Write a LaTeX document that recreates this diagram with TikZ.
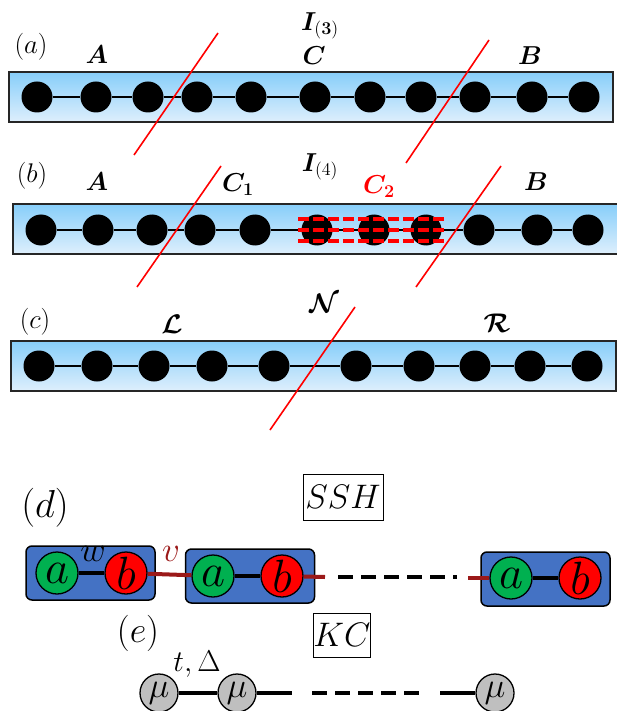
\documentclass[tikz,border=0pt]{standalone}
\usepackage{amsmath,bm,graphicx}
\definecolor{cellblue}{RGB}{68,114,196}
\definecolor{agreen}{RGB}{0,176,80}
\definecolor{dred}{RGB}{155,25,25}
\definecolor{skytop}{RGB}{135,206,250}
\definecolor{skybot}{RGB}{222,239,252}
\definecolor{mugray}{RGB}{191,191,191}
\newcommand{\sm}[2]{\scalebox{#1}{$#2$}}
\tikzset{
  basefont/.style={font=\fontsize{20.74}{24}\selectfont, inner sep=0pt},
  chainbox/.style={draw=black!85, line width=1.3pt, top color=skytop, bottom color=skybot},
  site/.style={circle, fill=black, minimum size=31pt, inner sep=0pt},
  bond/.style={line width=2.6pt},
  cut/.style={red, line width=1.6pt},
  reddash/.style={red, line width=3.4pt, dash pattern=on 11pt off 4pt},
  lbl/.style={basefont},
  boxlbl/.style={basefont, draw, line width=1pt},
  cell/.style={draw, fill=cellblue, rounded corners=6pt, line width=1.5pt, minimum width=129pt, minimum height=54pt, inner sep=0pt},
  asite/.style={basefont, circle, draw, line width=1.3pt, fill=agreen, minimum size=42pt},
  bsite/.style={asite, fill=red},
  musite/.style={basefont, circle, draw, line width=1.3pt, fill=mugray, minimum size=38pt},
  blink/.style={line width=4pt},
  rlink/.style={dred, line width=4pt},
  dlink/.style={line width=4pt, dash pattern=on 15pt off 8pt}
}
\begin{document}
\begin{tikzpicture}[x=1pt,y=-1pt]
\useasboundingbox (0,0) rectangle (617,711);
\clip (0,0) rectangle (617,711);
% ---------- (a)
\draw[chainbox] (9,72) rectangle (613,122);
\foreach \x [count=\i] in {37,96,148,197,251,315,370,421,475,532,584}
  \node[site] (a\i) at (\x,97) {};
\foreach \i [evaluate=\i as \j using int(\i+1)] in {1,...,10}
  \draw[bond] (a\i) -- (a\j);
\draw[cut] (218,33) -- (134,155);
\draw[cut] (489,40) -- (406,163);
\node[lbl] (la) at (31,47) {\sm{1.3}{(a)}};
\node[lbl] (aA) at (97,55) {\sm{1.25}{\bm{A}}};
\node[lbl] (aC) at (314,56) {\sm{1.25}{\bm{C}}};
\node[lbl] (aB) at (530,56) {\sm{1.25}{\bm{B}}};
\node[lbl] (aI) at (320,26) {\sm{1.25}{\bm{I}_{(\bm{3})}}};
% ---------- (b)
\draw[chainbox] (13,204) rectangle (618,254);
\foreach \x [count=\i] in {41,98,152,200,255,317,374,426,479,537,588}
  \node[site] (b\i) at (\x,230) {};
\foreach \i [evaluate=\i as \j using int(\i+1)] in {1,...,10}
  \draw[bond] (b\i) -- (b\j);
\draw[cut] (221,166) -- (137,287);
\draw[cut] (501,166) -- (416,287);
\foreach \y in {219,230,241}
  \draw[reddash] (298,\y) -- (445,\y);
\node[lbl] (lb) at (32,176) {\sm{1.3}{(b)}};
\node[lbl] (bA) at (97,182) {\sm{1.25}{\bm{A}}};
\node[lbl] (bC1) at (238,185) {\sm{1.25}{\bm{C}_{\bm{1}}}};
\node[lbl] (bI) at (320,167) {\sm{1.25}{\bm{I}_{(4)}}};
\node[lbl, text=red] (bC2) at (379,187) {\sm{1.25}{\bm{C}_{\bm{2}}}};
\node[lbl] (bB) at (536,182) {\sm{1.25}{\bm{B}}};
% ---------- (c)
\draw[chainbox] (11,341) rectangle (616,391);
\foreach \x [count=\i] in {39,97,154,212,274,356,419,475,530,587}
  \node[site] (c\i) at (\x,366) {};
\foreach \i [evaluate=\i as \j using int(\i+1)] in {1,...,9}
  \draw[bond] (c\i) -- (c\j);
\draw[cut] (355,307) -- (270,430);
\node[lbl] (lc) at (35,322) {\sm{1.3}{(c)}};
\node[lbl] (cL) at (172,324) {\sm{1.3}{\bm{\mathcal{L}}}};
\node[lbl] (cN) at (324,303) {\sm{1.3}{\bm{\mathcal{N}}}};
\node[lbl] (cR) at (497,323) {\sm{1.3}{\bm{\mathcal{R}}}};
% ---------- (d) SSH
\node[lbl] (ld) at (45,508) {\sm{1.88}{(d)}};
\node[boxlbl, minimum width=80pt, minimum height=46pt] (ssh) at (343,497) {\sm{1.64}{SSH}};
\node[cell] (cell1) at (90.5,573) {};
\node[cell] (cell2) at (250,576) {};
\node[cell] (cell3) at (545.5,579) {};
\node[asite] (sa1) at (57,573) {\sm{2.25}{a}};
\node[bsite] (sb1) at (126,573) {\sm{2.25}{b}};
\node[asite] (sa2) at (213,576) {\sm{2.25}{a}};
\node[bsite] (sb2) at (282,576) {\sm{2.25}{b}};
\node[asite] (sa3) at (511,578) {\sm{2.25}{a}};
\node[bsite] (sb3) at (580,578) {\sm{2.25}{b}};
\draw[blink] (sa1) -- (sb1);
\draw[blink] (sa2) -- (sb2);
\draw[blink] (sa3) -- (sb3);
\draw[rlink] (sb1) -- (sa2);
\coordinate (r2end) at (325,577);
\coordinate (dstart) at (338,577);
\coordinate (dend) at (457,577);
\coordinate (r3start) at (468,578);
\draw[rlink] (sb2) -- (r2end);
\draw[dlink] (dstart) -- (dend);
\draw[rlink] (r3start) -- (sa3);
\node[lbl] (w) at (93,554) {\sm{1.69}{w}};
\node[lbl, text=dred] (v) at (171,554) {\sm{1.69}{v}};
% ---------- (e) KC
\node[lbl] (le) at (138,633) {\sm{1.75}{(e)}};
\node[boxlbl, minimum width=57pt, minimum height=44pt] (kc) at (342,635) {\sm{1.64}{KC}};
\node[musite] (m1) at (159,693) {\sm{1.7}{\mu}};
\node[musite] (m2) at (237,693) {\sm{1.7}{\mu}};
\node[musite] (m3) at (495,693) {\sm{1.7}{\mu}};
\coordinate (e2end) at (292,693);
\coordinate (edstart) at (312,693);
\coordinate (edend) at (422,693);
\coordinate (e3start) at (440,693);
\draw[blink] (m1) -- (m2);
\draw[blink] (m2) -- (e2end);
\draw[dlink] (edstart) -- (edend);
\draw[blink] (e3start) -- (m3);
\node[lbl] (td) at (197,664) {\sm{1.45}{t,\Delta}};
\end{tikzpicture}
\end{document}
